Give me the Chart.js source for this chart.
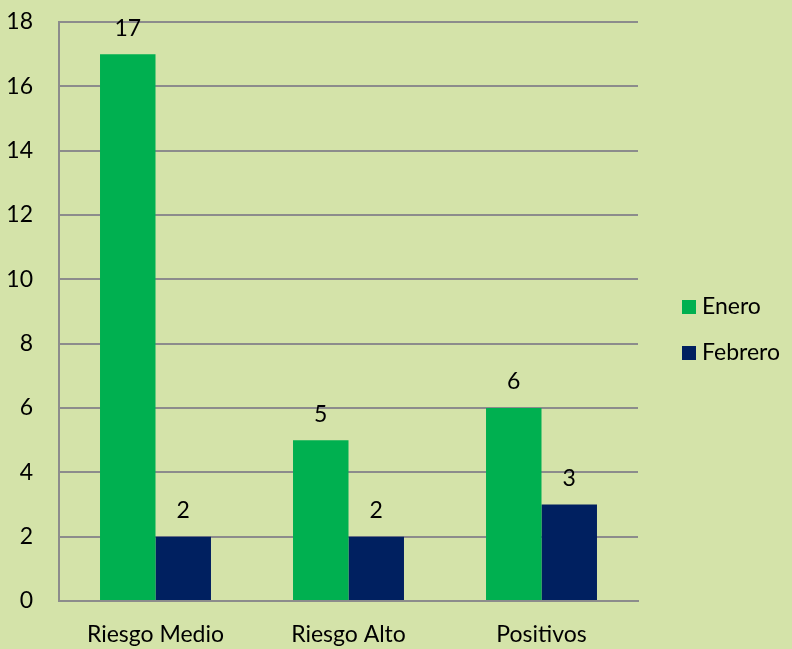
<!DOCTYPE html>
<html>
<head>
<meta charset="utf-8">
<script src="https://cdn.jsdelivr.net/npm/chart.js@4"></script>
<style>
  html, body { margin: 0; padding: 0; background: #d4e3a9; }
  #wrap { width: 792px; height: 649px; }
</style>
</head>
<body>
<div id="wrap"><canvas id="bars"></canvas></div>
<script>
var categories = ['Riesgo Medio', 'Riesgo Alto', 'Positivos'];
var enero = [17, 5, 6];
var febrero = [2, 2, 3];
var yTicks = [0, 2, 4, 6, 8, 10, 12, 14, 16, 18];

var fontName = 'Lato, "Open Sans", sans-serif';

// numbers on top of each bar
var valueLabels = {
  id: 'valueLabels',
  afterDatasetsDraw: function(chart) {
    var ctx = chart.ctx;
    ctx.save();
    ctx.font = '23px ' + fontName;
    ctx.fillStyle = '#000';
    ctx.textAlign = 'center';
    ctx.textBaseline = 'middle';
    chart.data.datasets.forEach(function(ds, i) {
      chart.getDatasetMeta(i).data.forEach(function(bar, j) {
        ctx.fillText(ds.data[j], bar.x, bar.y - 26);
      });
    });
    ctx.restore();
  }
};

// legend on the right, drawn by hand so it sits like the original
var sideLegend = {
  id: 'sideLegend',
  afterDraw: function(chart) {
    var ctx = chart.ctx;
    var x = chart.chartArea.right + 44;
    var y0 = 307;
    ctx.save();
    ctx.font = '23px ' + fontName;
    ctx.textBaseline = 'middle';
    ctx.textAlign = 'left';
    chart.data.datasets.forEach(function(ds, i) {
      var y = y0 + i * 46;
      ctx.fillStyle = ds.backgroundColor;
      ctx.fillRect(x, y - 7, 14, 14);
      ctx.fillStyle = '#000';
      ctx.fillText(ds.label, x + 20, y);
    });
    ctx.restore();
  }
};

var ctx = document.getElementById('bars').getContext('2d');
var chart = new Chart(ctx, {
  type: 'bar',
  data: {
    labels: categories,
    datasets: [{
      label: 'Enero',
      data: enero,
      backgroundColor: '#00b050'
    }, {
      label: 'Febrero',
      data: febrero,
      backgroundColor: '#002060'
    }]
  },
  options: {
    responsive: true,
    maintainAspectRatio: false,
    animation: false,
    categoryPercentage: 0.575,
    barPercentage: 1,
    layout: { padding: { top: 22, left: 0, right: 154, bottom: 0 } },
    plugins: {
      tooltip: { enabled: false },
      legend: { display: false }
    },
    scales: {
      x: {
        afterFit: function(axis) {
          axis.height = 48;
          axis.paddingLeft = 0;
          axis.paddingRight = 0;
        },
        grid: { display: false, drawTicks: false },
        border: { color: '#8c8c8c', width: 2 },
        ticks: { color: '#000', font: { family: fontName, size: 23 }, padding: 20 }
      },
      y: {
        min: 0,
        max: 18,
        afterBuildTicks: function(axis) {
          axis.ticks = yTicks.map(function(v) { return { value: v }; });
        },
        afterFit: function(axis) {
          axis.width = 59;
          axis.paddingTop = 0;
          axis.paddingBottom = 0;
        },
        grid: { color: '#8c8c8c', lineWidth: 2, drawTicks: false },
        border: { color: '#8c8c8c', width: 2 },
        ticks: { color: '#000', font: { family: fontName, size: 23 }, padding: 26 }
      }
    }
  },
  plugins: [valueLabels, sideLegend]
});
</script>
</body>
</html>
